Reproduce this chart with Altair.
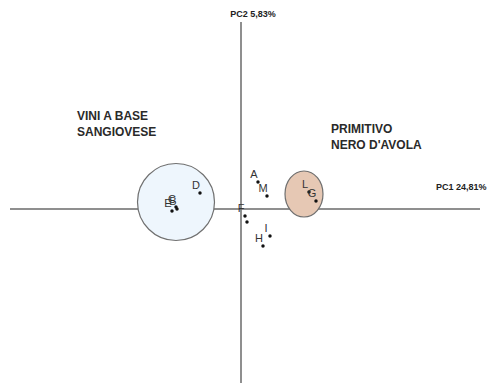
import altair as alt
import pandas as pd

# PCA scores (PC1, PC2)
labels = ["A", "M", "L", "G", "D", "C", "B", "E", "F", "", "I", "H"]
pc1 = [0.85, 1.3, 3.4, 3.75, -2.05, -3.25, -3.2, -3.45, 0.2, 0.3, 1.45, 1.1]
pc2 = [1.35, 0.65, 0.85, 0.4, 0.8, 0.1, 0.0, -0.1, -0.35, -0.65, -1.35, -1.85]

groups = ["VINI A BASE\nSANGIOVESE", "PRIMITIVO\nNERO D'AVOLA"]
group_cx = [-3.25, 3.15]
group_cy = [0.35, 0.75]
group_tx = [-8.2, 4.5]
group_ty = [4.9, 4.25]

axis_titles = ["PC2 5,83%", "PC1 24,81%"]

XD = [-11.65, 12.55]
YD = [-8.7, 10.05]

xs = alt.Scale(domain=XD, nice=False, zero=False)
ys = alt.Scale(domain=YD, nice=False, zero=False)

pts = pd.DataFrame({"label": labels, "pc1": pc1, "pc2": pc2})
grp = pd.DataFrame({"g": groups, "cx": group_cx, "cy": group_cy, "tx": group_tx, "ty": group_ty})

axes_df = pd.DataFrame({"x": [-11.55, 0], "x2": [11.95, 0], "y": [0, 9.35], "y2": [0, -8.7]})
rules = alt.Chart(axes_df).mark_rule(color="#6a6a6a", strokeWidth=1.5).encode(
    x=alt.X("x:Q", scale=xs, axis=None), x2="x2:Q",
    y=alt.Y("y:Q", scale=ys, axis=None), y2="y2:Q")

left_circle = alt.Chart(grp.iloc[[0]]).mark_point(
    shape="circle", size=5929, filled=True, fill="#eef6fd", stroke="#707070",
    strokeWidth=1.2, opacity=1).encode(
    x=alt.X("cx:Q", scale=xs, axis=None), y=alt.Y("cy:Q", scale=ys, axis=None))

ellipse_path = "M -0.826 0 A 0.826 1 0 1 0 0.826 0 A 0.826 1 0 1 0 -0.826 0 Z"
right_ellipse = alt.Chart(grp.iloc[[1]]).mark_point(
    shape=ellipse_path, size=2116, filled=True, fill="#e6c8b4", stroke="#707070",
    strokeWidth=1.2, opacity=1).encode(
    x=alt.X("cx:Q", scale=xs, axis=None), y=alt.Y("cy:Q", scale=ys, axis=None))

dots = alt.Chart(pts).mark_point(shape="circle", size=12, filled=True, color="#111111", opacity=1).encode(
    x=alt.X("pc1:Q", scale=xs, axis=None), y=alt.Y("pc2:Q", scale=ys, axis=None))

pt_labels = alt.Chart(pts).mark_text(
    font="Liberation Sans", fontSize=11, color="#333333", dx=-4, dy=-7,
    align="center", baseline="middle").encode(
    x=alt.X("pc1:Q", scale=xs, axis=None), y=alt.Y("pc2:Q", scale=ys, axis=None), text="label:N")

grp_labels = alt.Chart(grp).mark_text(
    font="Liberation Sans", fontSize=12, fontWeight="bold", color="#2a2a2a",
    align="left", baseline="top", lineBreak="\n", lineHeight=16).encode(
    x=alt.X("tx:Q", scale=xs, axis=None), y=alt.Y("ty:Q", scale=ys, axis=None), text="g:N")

at_df = pd.DataFrame({"t": axis_titles, "x": [0.6, 9.75], "y": [9.75, 1.1]})
at_c = alt.Chart(at_df.iloc[[0]]).mark_text(
    font="Liberation Sans", fontSize=9, fontWeight="bold", color="#222222",
    align="center", baseline="middle").encode(
    x=alt.X("x:Q", scale=xs, axis=None), y=alt.Y("y:Q", scale=ys, axis=None), text="t:N")
at_l = alt.Chart(at_df.iloc[[1]]).mark_text(
    font="Liberation Sans", fontSize=9, fontWeight="bold", color="#222222",
    align="left", baseline="middle").encode(
    x=alt.X("x:Q", scale=xs, axis=None), y=alt.Y("y:Q", scale=ys, axis=None), text="t:N")

chart = alt.layer(rules, left_circle, right_ellipse, dots, pt_labels, grp_labels, at_c, at_l).properties(
    width=484, height=375, padding=0, autosize=alt.AutoSizeParams(type="none"),
    background="white").configure_view(stroke=None)

chart.save("out.html", embed_options={"renderer": "svg", "actions": False})
